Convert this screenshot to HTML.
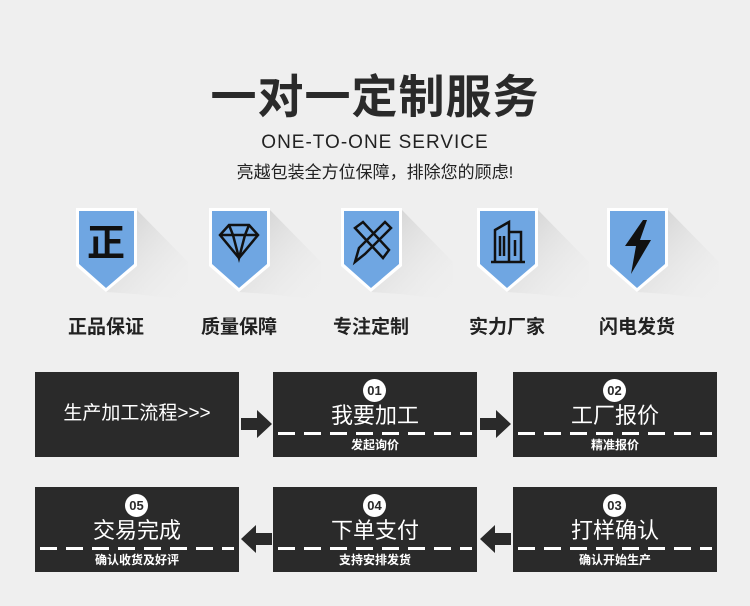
<!DOCTYPE html><html><head><meta charset="utf-8"><style>
body{margin:0;width:750px;height:606px;background:#efefef;position:relative;overflow:hidden;font-family:"Liberation Sans","Noto Sans CJK SC",sans-serif;color:#222}
.a{position:absolute}
.t{left:0;width:750px;text-align:center}
.box{position:absolute;width:204px;height:85px;background:#2a2a2a;color:#fff;text-align:center}
.num{position:absolute;left:90px;top:7px;width:23px;height:23px;border-radius:50%;background:#fff;color:#2a2a2a;font-weight:bold;font-size:13px;line-height:23px}
.m{position:absolute;left:0;width:204px;top:31px;font-size:22px;line-height:26px}
.d{position:absolute;left:5px;right:5px;top:60px;height:3px;background:repeating-linear-gradient(90deg,#fff 0 17px,transparent 17px 26px)}
.s{position:absolute;left:0;width:204px;top:65px;font-size:12px;font-weight:bold;line-height:16px}
.lab{position:absolute;top:312px;font-size:19px;font-weight:bold;width:120px;text-align:center}
</style></head><body>
<div class="a t" style="top:68px;font-size:46px;font-weight:bold;line-height:58px;color:#2a2a2a;letter-spacing:1px">一对一定制服务</div>
<div class="a t" style="top:131px;font-size:19px;line-height:24px;letter-spacing:1px">ONE-TO-ONE SERVICE</div>
<div class="a t" style="top:162px;font-size:17px;line-height:22px">亮越包装全方位保障，排除您的顾虑!</div>
<svg class="a" style="left:0;top:200px" width="750" height="110">
<defs><linearGradient id="g2" x1="0" y1="0" x2="1" y2="1"><stop offset="0" stop-color="#bbb" stop-opacity=".7"/><stop offset="1" stop-color="#efefef" stop-opacity="0"/></linearGradient></defs>
<g transform="translate(76,0)"><polygon points="61,10 112,62 112,100 59,94 30,92" fill="url(#g2)"/><polygon points="0,8 61,8 61,66 30,92 0,66" fill="#fff"/><polygon points="3,11 58,11 58,64 30,88 3,64" fill="#6fa6e2"/>
<text x="30" y="56" text-anchor="middle" font-size="38" font-weight="bold" font-family="Noto Sans CJK SC" fill="#111">正</text></g>
<g transform="translate(209,0)"><polygon points="61,10 112,62 112,100 59,94 30,92" fill="url(#g2)"/><polygon points="0,8 61,8 61,66 30,92 0,66" fill="#fff"/><polygon points="3,11 58,11 58,64 30,88 3,64" fill="#6fa6e2"/>
<g fill="none" stroke="#111" stroke-width="2.5"><polygon points="20,25 40,25 49,35 30,58 11,35"/><path d="M11,35H49M20,25L24,35L30,58L36,35L40,25"/></g></g>
<g transform="translate(341,0)"><polygon points="61,10 112,62 112,100 59,94 30,92" fill="url(#g2)"/><polygon points="0,8 61,8 61,66 30,92 0,66" fill="#fff"/><polygon points="3,11 58,11 58,64 30,88 3,64" fill="#6fa6e2"/>
<g fill="none" stroke="#111" stroke-width="2.5"><path d="M14,62L18,48L44,22L50,28L24,54Z M14,28L22,22L48,50L42,58Z"/></g></g>
<g transform="translate(477,0)"><polygon points="61,10 112,62 112,100 59,94 30,92" fill="url(#g2)"/><polygon points="0,8 61,8 61,66 30,92 0,66" fill="#fff"/><polygon points="3,11 58,11 58,64 30,88 3,64" fill="#6fa6e2"/>
<g fill="none" stroke="#111" stroke-width="2.5"><path d="M14,62H48M18,62V30L32,22V62M32,32H44V62M23,36V56M27,36V56M38,40V56"/></g></g>
<g transform="translate(607,0)"><polygon points="61,10 112,62 112,100 59,94 30,92" fill="url(#g2)"/><polygon points="0,8 61,8 61,66 30,92 0,66" fill="#fff"/><polygon points="3,11 58,11 58,64 30,88 3,64" fill="#6fa6e2"/>
<polygon points="36,20 18,46 29,46 24,74 44,40 33,40 40,20" fill="#111"/></g>
</svg>
<div class="lab" style="left:46px">正品保证</div>
<div class="lab" style="left:179px">质量保障</div>
<div class="lab" style="left:311px">专注定制</div>
<div class="lab" style="left:447px">实力厂家</div>
<div class="lab" style="left:577px">闪电发货</div>

<div class="box" style="left:35px;top:372px"><div class="m" style="top:29px;font-size:19px">生产加工流程&gt;&gt;&gt;</div></div>
<div class="box" style="left:273px;top:372px"><div class="num">01</div><div class="m">我要加工</div><div class="d"></div><div class="s">发起询价</div></div>
<div class="box" style="left:513px;top:372px"><div class="num">02</div><div class="m">工厂报价</div><div class="d"></div><div class="s">精准报价</div></div>
<div class="box" style="left:35px;top:487px"><div class="num">05</div><div class="m">交易完成</div><div class="d"></div><div class="s">确认收货及好评</div></div>
<div class="box" style="left:273px;top:487px"><div class="num">04</div><div class="m">下单支付</div><div class="d"></div><div class="s">支持安排发货</div></div>
<div class="box" style="left:513px;top:487px"><div class="num">03</div><div class="m">打样确认</div><div class="d"></div><div class="s">确认开始生产</div></div>
<svg class="a" style="left:0;top:0" width="750" height="606">
<g fill="#2a2a2a">
<polygon points="241,418 257,418 257,410 272,424 257,438 257,430 241,430"/>
<polygon points="480,418 496,418 496,410 511,424 496,438 496,430 480,430"/>
<polygon points="272,533 256,533 256,525 241,539 256,553 256,545 272,545"/>
<polygon points="511,533 495,533 495,525 480,539 495,553 495,545 511,545"/>
</g></svg>
</body></html>
